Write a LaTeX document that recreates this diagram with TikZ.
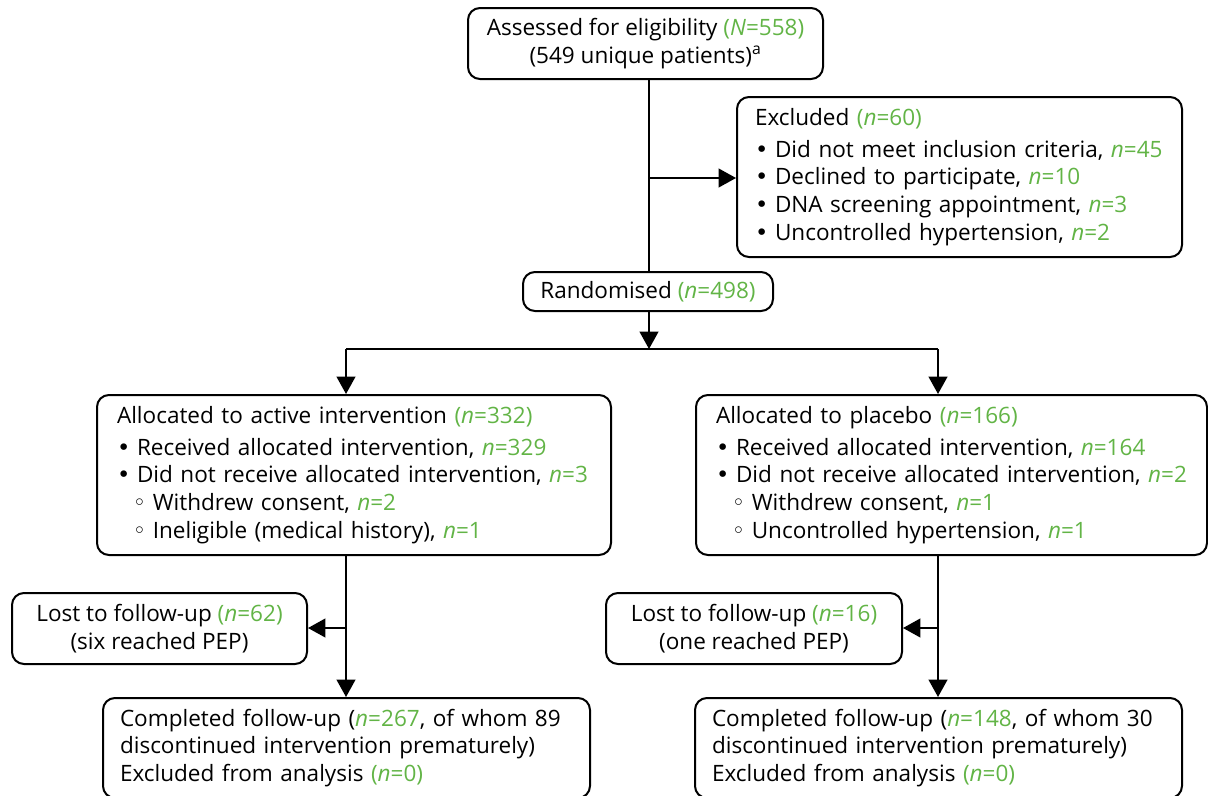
\documentclass[tikz,border=0pt]{standalone}
\usepackage{fontspec}
\setmainfont{Open Sans}
\newfontfamily\symfont{DejaVu Sans}
\usetikzlibrary{arrows.meta}
\definecolor{ngreen}{RGB}{98,180,70}
\newcommand{\gn}[1]{\textcolor{ngreen}{#1}}
\newcommand{\nn}[1]{\textcolor{ngreen}{\textit{n}=#1}}
\newcommand{\pn}[1]{\textcolor{ngreen}{(\textit{n}=#1)}}
\newcommand{\bul}{{\symfont •}\hspace{0.3em}}
\newcommand{\hb}{\hspace*{0.7em}{\symfont ◦}\hspace{0.3em}}
\begin{document}
\begin{tikzpicture}[x=0.75pt,y=-0.75pt,
  font=\fontsize{16.9}{20.8}\selectfont,
  box/.style={draw, line width=1.5pt, rounded corners=9pt},
  lbox/.style={box, align=left, inner ysep=4pt},
  cbox/.style={box, align=center},
  conn/.style={line width=1.5pt},
  arr/.style={conn, -{Triangle[length=13pt,width=14pt]}}]
\useasboundingbox (0,0) rectangle (1208,796);

\node[cbox, minimum width=266.25pt, minimum height=53.25pt] (top) at (645.5,43.5)
  {Assessed for eligibility \gn{(\textit{N}=558)}\\(549 unique patients)\textsuperscript{a}};

\node[lbox, inner xsep=13.5pt, text width=306.75pt, minimum height=120pt] (excl) at (959.5,177)
  {Excluded \pn{60}\\[3pt]
   \bul Did not meet inclusion criteria, \nn{45}\\
   \bul Declined to participate, \nn{10}\\
   \bul DNA screening appointment, \nn{3}\\
   \bul Uncontrolled hypertension, \nn{2}};

\node[cbox, minimum width=187.5pt, minimum height=29.25pt] (rand) at (648,291.5)
  {Randomised \pn{498}};

\node[lbox, inner xsep=15pt, text width=355.5pt, minimum height=120pt] (act) at (354,475)
  {Allocated to active intervention \pn{332}\\[3pt]
   \bul Received allocated intervention, \nn{329}\\
   \bul Did not receive allocated intervention, \nn{3}\\
   \hb Withdrew consent, \nn{2}\\
   \hb Ineligible (medical history), \nn{1}};

\node[lbox, inner xsep=15pt, text width=353.25pt, minimum height=120pt] (plac) at (951.5,475)
  {Allocated to placebo \pn{166}\\[3pt]
   \bul Received allocated intervention, \nn{164}\\
   \bul Did not receive allocated intervention, \nn{2}\\
   \hb Withdrew consent, \nn{1}\\
   \hb Uncontrolled hypertension, \nn{1}};

\node[cbox, minimum width=221.25pt, minimum height=53.25pt] (lostL) at (159.5,628.5)
  {Lost to follow-up \pn{62}\\(six reached PEP)};

\node[cbox, minimum width=222pt, minimum height=53.25pt] (lostR) at (754,628.5)
  {Lost to follow-up \pn{16}\\(one reached PEP)};

\node[lbox, inner xsep=12.75pt, text width=339.75pt, minimum height=75pt] (compL) at (346.5,748)
  {Completed follow-up (\nn{267}, of whom 89\\
   discontinued intervention prematurely)\\
   Excluded from analysis \pn{0}};

\node[lbox, inner xsep=12.75pt, text width=339.75pt, minimum height=75pt] (compR) at (938.5,748)
  {Completed follow-up (\nn{148}, of whom 30\\
   discontinued intervention prematurely)\\
   Excluded from analysis \pn{0}};

% connectors
\coordinate (b1) at (649,178);
\draw[conn] (b1 |- top.south) -- (b1 |- rand.north);
\draw[arr] (b1) -- (excl.west |- b1);

\coordinate (s) at (649,349);
\coordinate (sl) at (346,349);
\coordinate (sr) at (938,349);
\draw[arr] (s |- rand.south) -- (s);
\draw[conn] (sl) -- (sr);
\draw[arr] (sl) -- (sl |- act.north);
\draw[arr] (sr) -- (sr |- plac.north);

\coordinate (bl) at (346,628);
\coordinate (br) at (938,628);
\draw[arr] (bl |- act.south) -- (bl |- compL.north);
\draw[arr] (bl) -- (lostL.east |- bl);
\draw[arr] (br |- plac.south) -- (br |- compR.north);
\draw[arr] (br) -- (lostR.east |- br);
\end{tikzpicture}
\end{document}
